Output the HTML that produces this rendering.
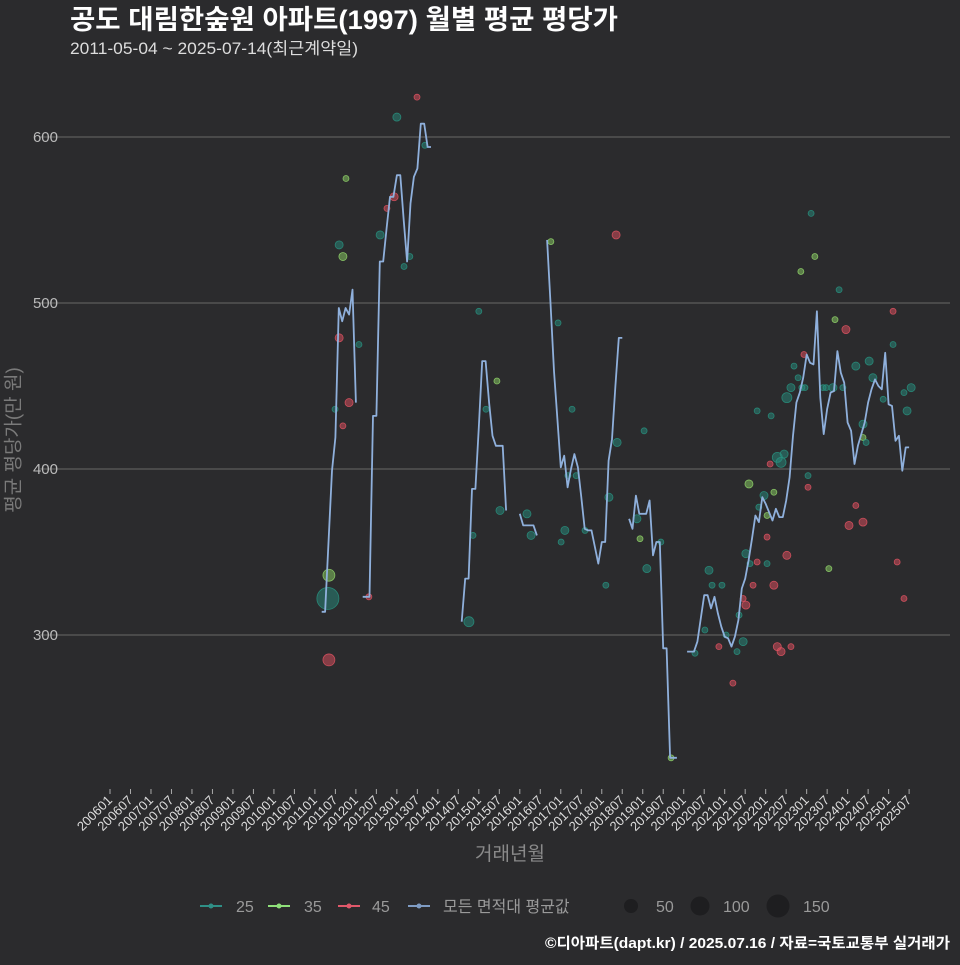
<!DOCTYPE html>
<html><head><meta charset="utf-8">
<style>
html,body{margin:0;padding:0;background:#2b2b2d;}
body{width:960px;height:960px;overflow:hidden;font-family:"Liberation Sans","Noto Sans CJK KR",sans-serif;}
svg text{font-family:"Liberation Sans","Noto Sans CJK KR",sans-serif;}
</style></head>
<body>
<svg id="chart" width="960" height="960" viewBox="0 0 960 960" xmlns="http://www.w3.org/2000/svg">
<rect x="0" y="0" width="960" height="960" fill="#2b2b2d"/>
<text x="70" y="29" fill="#ffffff" font-size="27" font-weight="bold" textLength="548" lengthAdjust="spacingAndGlyphs">공도 대림한숲원 아파트(1997) 월별 평균 평당가</text>
<text x="70" y="54" fill="#dddddd" font-size="16.5" textLength="288" lengthAdjust="spacingAndGlyphs">2011-05-04 ~ 2025-07-14(최근계약일)</text>
<g id="grid"></g>
<g id="yaxis"></g>
<g id="xaxis"></g>
<g id="points"></g>
<g id="lines"></g>
<text transform="translate(14,440) rotate(-90)" text-anchor="middle" dominant-baseline="central" fill="#7a7a7a" font-size="19">평균 평당가(만 원)</text>
<text x="510" y="860" text-anchor="middle" fill="#8a8a8a" font-size="19">거래년월</text>
<g id="legend">
  <g><line x1="200" y1="906" x2="222" y2="906" stroke="#2f8f86" stroke-width="2"/><circle cx="211" cy="906" r="2.5" fill="#2f8f86"/><text x="236" y="912" fill="#9a9a9a" font-size="16">25</text></g>
  <g><line x1="268" y1="906" x2="290" y2="906" stroke="#8fe07a" stroke-width="2"/><circle cx="279" cy="906" r="2.5" fill="#8fe07a"/><text x="304" y="912" fill="#9a9a9a" font-size="16">35</text></g>
  <g><line x1="338" y1="906" x2="360" y2="906" stroke="#e0586a" stroke-width="2"/><circle cx="349" cy="906" r="2.5" fill="#e0586a"/><text x="372" y="912" fill="#9a9a9a" font-size="16">45</text></g>
  <g><line x1="408" y1="906" x2="430" y2="906" stroke="#7f9cc4" stroke-width="2"/><circle cx="419" cy="906" r="2.5" fill="#7f9cc4"/><text x="443" y="912" fill="#9a9a9a" font-size="16">모든 면적대 평균값</text></g>
  <g><circle cx="631" cy="906" r="7" fill="#1e1e20"/><text x="656" y="912" fill="#9a9a9a" font-size="16">50</text></g>
  <g><circle cx="700" cy="906" r="9.5" fill="#1e1e20"/><text x="723" y="912" fill="#9a9a9a" font-size="16">100</text></g>
  <g><circle cx="778" cy="906" r="11.5" fill="#1e1e20"/><text x="803" y="912" fill="#9a9a9a" font-size="16">150</text></g>
</g>
<text x="950" y="948" text-anchor="end" fill="#ffffff" font-size="15" font-weight="bold" textLength="405" lengthAdjust="spacingAndGlyphs">©디아파트(dapt.kr) / 2025.07.16 / 자료=국토교통부 실거래가</text>
</svg>
<script>
// ---- data ----
const yTicks = [300, 400, 500, 600];
const lineStartMonth = 62; // months since 2006-01
const avgValues = [314,314,357,399,419,497,489,497,493,508,440,null,
 323,323,323,432,432,525,525,545,564,564,577,577,550,525,560,576,581,608,608,594,594,
 null,null,null,null,null,null,null,null,
 308,334,334,388,388,425,465,465,440,420,414,414,414,375,
 null,null,null,
 373,366,366,366,366,360,
 null,null,
 538,500,459,430,401,408,389,400,409,401,383,364,363,363,353,343,356,356,405,418,450,479,479,
 null,
 370,364,384,373,373,373,381,348,356,356,292,292,226,226,226,
 null,null,
 290,290,290,296,310,324,324,316,323,313,305,299,298,293,299,309,328,334,345,358,372,368,383,379,374,369,376,371,371,381,395,420,440,446,455,469,464,463,495,443,421,436,446,447,471,458,452,428,423,403,414,421,428,440,448,454,450,448,470,439,438,417,420,399,413,413];
const scMonth = [63.8,64.1,64.1,65.9,67.1,68.2,69.1,67.1,68.2,70,72.9,75.8,79.1,81.1,83.2,84,86.1,87.8,89.9,92.2,
 108,113.3,110.1,114.2,106.3,105.1,122.1,123.3,129.1,148.2,131.2,135.3,134.1,136.5,133.2,132.1,139.1,145.2,146.1,148.5,156.4,155.2,154.3,157.2,161.3,164.3,
 171.3,174.2,175.4,176.3,179.2,178.3,180.4,182.4,183.6,185.4,184.2,186.2,185.4,186.2,187.4,188.3,189.5,187.1,189.5,190,191.5,192.4,194.4,192.4,192.4,193.3,193.6,195.4,196.5,197.4,194.4,195.4,196.5,198.2,199.4,198.2,199.4,200.3,201.5,203.2,202.6,203.5,204.4,204.4,202.3,206.4,205.3,213.5,212.3,215.5,208.8,209.7,211.7,214.6,218.4,220.5,220.5,221.4,210.5,218.4,216.4,220.5,222.3,223.4,226.4,229.3,229.3,232.5,234.6,233.4,230.5,232.5];
const scValue = [322,336,285,436,535,528,575,479,426,440,475,323,541,557,564,612,522,528,624,595,
 495,453,436,375,360,308,373,360,537,541,488,436,396,396,363,356,363,330,383,416,423,358,370,340,356,226,
 289,303,339,330,330,293,300,271,290,296,312,318,322,349,343,330,344,391,435,377,384,372,386,359,343,403,432,407,404,409,330,293,290,348,293,443,449,462,455,469,449,449,396,389,519,528,554,508,490,484,449,449,449,449,462,427,419,416,340,378,366,368,465,455,442,495,475,446,449,435,344,322];
const scSize = ["25","35","45","25","25","35","35","45","45","45","25","45","25","45","45","25","25","25","45","25",
 "25","35","25","25","25","25","25","25","35","45","25","25","25","25","25","25","25","25","25","25","25","35","25","25","25","35",
 "25","25","25","25","25","45","25","45","25","25","25","45","45","25","25","45","45","35","25","25","25","35","35","45","25","45","25","25","25","25","45","45","45","45","45","25","25","25","25","45","25","25","25","45","35","35","25","25","35","45","25","25","25","25","25","25","35","25","35","45","45","45","25","25","25","45","25","25","25","25","45","45"];
const scCount = [150,44,44,11,20,20,11,20,11,20,11,11,20,11,20,20,11,11,11,11,
 11,11,11,20,11,31,20,20,11,20,11,11,11,11,20,11,11,11,20,20,11,11,20,20,11,11,
 11,11,20,11,11,11,11,11,11,20,11,20,11,20,11,11,11,20,11,11,20,11,11,11,11,11,11,31,31,20,20,20,20,20,11,31,20,11,11,11,11,11,11,11,11,11,11,11,11,20,11,11,20,11,20,20,11,11,11,11,20,20,20,20,11,11,11,11,20,20,11,11];
const xTickLabels = [];
for (let y = 2006; y <= 2025; y++) { xTickLabels.push(y + "01"); xTickLabels.push(y + "07"); }

// ---- scales ----
const X0 = 110, DX = 3.415;
function xScale(m) { return X0 + m * DX; }
function yScale(v) { return 137 + (600 - v) * 1.66; }
const NS = "http://www.w3.org/2000/svg";
function mk(tag, attrs, parent) {
  const el = document.createElementNS(NS, tag);
  for (const k in attrs) el.setAttribute(k, attrs[k]);
  parent.appendChild(el); return el;
}
const grid = document.getElementById('grid');
const yaxis = document.getElementById('yaxis');
yTicks.forEach(v => {
  const l = mk('line', {x1: 40, x2: 950, y1: yScale(v), y2: yScale(v), stroke: '#5c5c5c', 'stroke-width': 1.3}, grid);
  
  
  const t = mk('text', {x: 58, y: yScale(v) + 5, 'text-anchor': 'end', fill: '#bbbbbb', 'font-size': 15}, yaxis);
  t.textContent = v;
  
  
});
const xaxis = document.getElementById('xaxis');
xTickLabels.forEach((lab, i) => {
  const x = xScale(i * 6);
  const tk = mk('line', {x1: x, x2: x, y1: 789, y2: 794, stroke: '#aaaaaa', 'stroke-width': 1}, xaxis);
  
  
  const t = mk('text', {x: x + 3, y: 801, 'text-anchor': 'end', fill: '#dddddd', 'font-size': 13, transform: 'rotate(-45 ' + (x + 3) + ' 801)'}, xaxis);
  t.textContent = lab;
  
  
});
const colors = {"25": ["rgba(40,140,125,0.5)", "rgba(40,150,130,0.8)"],
                "35": ["rgba(140,210,100,0.5)", "rgba(150,220,110,0.8)"],
                "45": ["rgba(225,80,95,0.5)", "rgba(230,85,100,0.8)"]};
const pts = document.getElementById('points');
scMonth.forEach((m, i) => {
  const c = colors[scSize[i]];
  const p = mk('circle', {cx: xScale(m), cy: yScale(scValue[i]), r: 0.9 * Math.sqrt(scCount[i]), fill: c[0], stroke: c[1], 'stroke-width': 0.8}, pts);
  
  
});
const lines = document.getElementById('lines');
let seg = [];
function flush() {
  if (seg.length > 1) {
    const pl = mk('polyline', {points: seg.join(' '), fill: 'none', stroke: '#8fb0dc', 'stroke-width': 1.8, 'stroke-linejoin': 'round'}, lines);
    
    
  }
  seg = [];
}
avgValues.forEach((v, i) => {
  if (v === null) { flush(); return; }
  seg.push(xScale(lineStartMonth + i).toFixed(1) + ',' + yScale(v).toFixed(1));
});
flush();
</script>
</body></html>
